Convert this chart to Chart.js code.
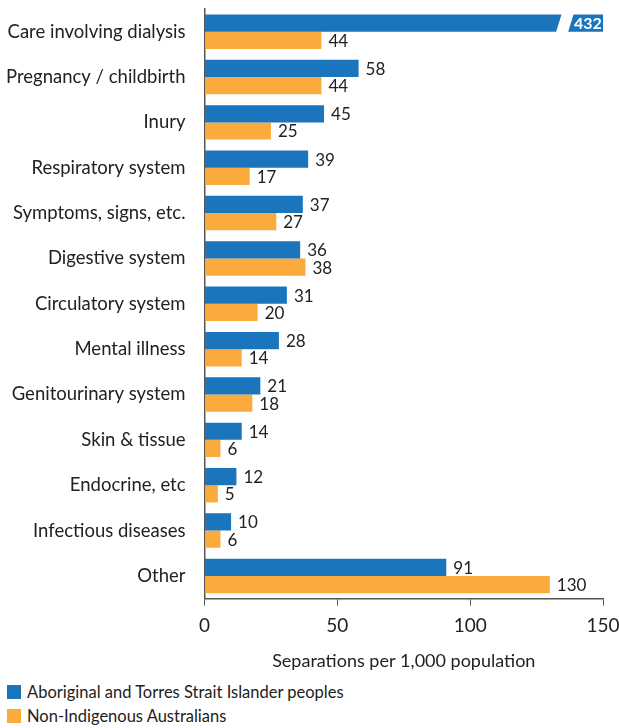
<!DOCTYPE html>
<html>
<head>
<meta charset="utf-8">
<script src="https://cdn.jsdelivr.net/npm/chart.js@4/dist/chart.umd.min.js"></script>
<style>
  html, body { margin: 0; padding: 0; background: #fff; }
  body { width: 619px; height: 728px; overflow: hidden; font-family: Lato, sans-serif; }
  #wrap { position: relative; width: 619px; height: 680px; }
  .legend { padding-left: 7px; font-size: 16.5px; color: #222; }
  .legend div { display: flex; align-items: center; height: 24px; }
  .legend span.box { display: inline-block; width: 14px; height: 14px; margin-right: 6px; }
</style>
</head>
<body>
<div id="wrap"><canvas id="chart"></canvas></div>
<div class="legend" id="legend"></div>
<script>
const categories = [
  'Care involving dialysis', 'Pregnancy / childbirth', 'Inury', 'Respiratory system',
  'Symptoms, signs, etc.', 'Digestive system', 'Circulatory system', 'Mental illness',
  'Genitourinary system', 'Skin & tissue', 'Endocrine, etc', 'Infectious diseases', 'Other'
];
const indigenous = [432, 58, 45, 39, 37, 36, 31, 28, 21, 14, 12, 10, 91];
const nonIndigenous = [44, 44, 25, 17, 27, 38, 20, 14, 18, 6, 5, 6, 130];
const xTicks = [0, 50, 100, 150];
const seriesNames = ['Aboriginal and Torres Strait Islander peoples', 'Non-Indigenous Australians'];
const seriesColors = ['#1b75bc', '#fbab3d'];
const X_MAX = 150;

// value labels + the axis break on bars that run past the scale
const valueLabels = {
  id: 'valueLabels',
  afterDatasetsDraw(chart) {
    const ctx = chart.ctx;
    const xs = chart.scales.x;
    const area = chart.chartArea;
    ctx.save();
    ctx.textBaseline = 'middle';
    chart.data.datasets.forEach((ds, di) => {
      chart.getDatasetMeta(di).data.forEach((bar, i) => {
        const v = ds.data[i];
        if (v > X_MAX) {
          const top = bar.y - bar.height / 2;
          const bottom = bar.y + bar.height / 2;
          const cut = xs.getPixelForValue(136);
          ctx.fillStyle = '#fff';
          ctx.beginPath();
          ctx.moveTo(cut - 4, top - 1);
          ctx.lineTo(cut + 8, top - 1);
          ctx.lineTo(cut + 2, bottom + 1);
          ctx.lineTo(cut - 10, bottom + 1);
          ctx.closePath();
          ctx.fill();
          ctx.font = 'bold 16px Lato, sans-serif';
          ctx.textAlign = 'center';
          ctx.fillText(String(v), (cut + 5 + area.right) / 2 + 1, bar.y + 1);
        } else {
          ctx.font = '17px Lato, sans-serif';
          ctx.fillStyle = '#222';
          ctx.textAlign = 'left';
          ctx.fillText(String(v), bar.x + 7, bar.y + 1);
        }
      });
    });
    ctx.restore();
  }
};

new Chart(document.getElementById('chart'), {
  type: 'bar',
  data: {
    labels: categories,
    datasets: [
      { label: seriesNames[0], data: indigenous, backgroundColor: seriesColors[0] },
      { label: seriesNames[1], data: nonIndigenous, backgroundColor: seriesColors[1] },
    ],
  },
  options: {
    indexAxis: 'y',
    responsive: true,
    maintainAspectRatio: false,
    animation: false,
    barPercentage: 1,
    categoryPercentage: 0.76,
    layout: { padding: { top: 0, right: 0, left: -5, bottom: 4 } },
    plugins: {
      legend: { display: false },
      tooltip: { enabled: false },
    },
    scales: {
      x: {
        min: 0,
        max: X_MAX,
        afterBuildTicks: (scale) => { scale.ticks = xTicks.map((value) => ({ value })); },
        afterFit: (scale) => { scale.paddingRight = 16; scale.paddingLeft = 0; },
        grid: { drawOnChartArea: false, drawTicks: true, tickLength: 7, color: '#555' },
        border: { display: true, color: '#555', width: 1.5 },
        ticks: { color: '#222', font: { family: 'Lato', size: 19 }, padding: 9 },
        title: {
          display: true,
          text: 'Separations per 1,000 population',
          color: '#222',
          font: { family: 'Lato', size: 18 },
          padding: { top: 4 },
        },
      },
      y: {
        afterFit: (scale) => { scale.paddingTop = 9; scale.paddingBottom = 0; },
        grid: { display: false },
        border: { display: true, color: '#555', width: 1.5 },
        ticks: { color: '#222', font: { family: 'Lato', size: 18.5 }, padding: 11 },
      },
    },
  },
  plugins: [valueLabels],
});

document.getElementById('legend').innerHTML = seriesNames
  .map((name, i) => `<div><span class="box" style="background:${seriesColors[i]}"></span>${name}</div>`)
  .join('');
</script>
</body>
</html>
